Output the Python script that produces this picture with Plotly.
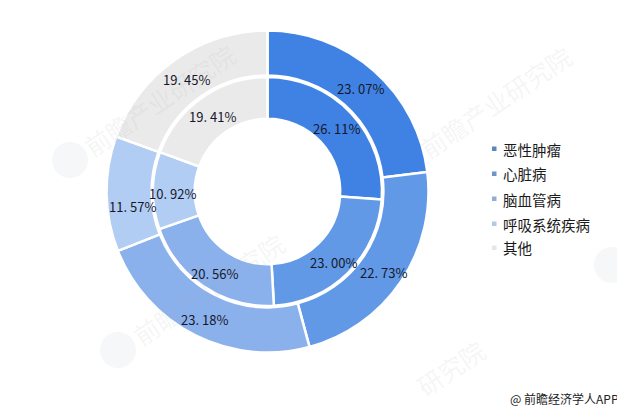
import plotly.graph_objects as go

W, H = 625, 411
categories = ["恶性肿瘤", "心脏病", "脑血管病", "呼吸系统疾病", "其他"]
outer_values = [23.07, 22.73, 23.18, 11.57, 19.45]
inner_values = [26.11, 23.00, 20.56, 10.92, 19.41]
outer_text = ["23. 07%", "22. 73%", "23. 18%", "11. 57%", "19. 45%"]
inner_text = ["26. 11%", "23. 00%", "20. 56%", "10. 92%", "19. 41%"]
colors = ["#3F82E3", "#6199E6", "#8AB1EC", "#B2CDF3", "#EAEAEA"]
legend_colors = ["#5B86BE", "#6E95C8", "#94AECF", "#B4C8DE", "#E6E6E6"]
watermark_text = "前瞻产业研究院"
watermark_part = "研究院"
footer_text = "@ 前瞻经济学人APP"
CJK = "Noto Sans CJK SC"

# page pixel positions (the page body adds an 8px offset to the figure)
outer_label_xy = [(360, 89), (383, 272), (204, 319), (132, 207), (186, 79)]
inner_label_xy = [(336, 129), (334, 262), (214, 273), (172, 193), (212, 116)]
legend_rows_y = [149, 174, 199, 224, 248]
watermark_xy = [(159, 100), (495, 102), (208, 289)]
logo_xy = [(70, 160), (118, 350), (612, 265)]
OFFSET = 8


def fx(x):
    return (x - OFFSET) / W


def fy(y):
    return 1 - (y - OFFSET) / H


def domain(cx, cy, r):
    return dict(x=[fx(cx - r), fx(cx + r)], y=[fy(cy + r), fy(cy - r)])


def note(x, y, text, size, color, xanchor="center", angle=0):
    fig.add_annotation(x=fx(x), y=fy(y), xref="paper", yref="paper", text=text, showarrow=False,
                       xanchor=xanchor, yanchor="middle", textangle=angle,
                       font=dict(family=CJK, size=size, color=color))


fig = go.Figure()
for vals, r, hole in [(outer_values, 161, 0.72), (inner_values, 114.5, 0.635)]:
    fig.add_trace(go.Pie(values=vals, labels=categories, textinfo="none",
                         domain=domain(267.5, 191.5, r), hole=hole, sort=False, direction="clockwise",
                         rotation=0, marker=dict(colors=colors, line=dict(color="white", width=2.5)),
                         showlegend=False))

for lx, ly in logo_xy:
    fig.add_shape(type="circle", xref="paper", yref="paper", layer="below",
                  x0=fx(lx - 18), x1=fx(lx + 18), y0=fy(ly + 18), y1=fy(ly - 18),
                  fillcolor="#F6F7F8", line=dict(width=0))
for wx, wy in watermark_xy:
    note(wx, wy, watermark_text, 25, "rgba(170,175,180,0.13)", angle=-34)
note(450, 368, watermark_part, 25, "rgba(170,175,180,0.13)", angle=-34)
for txt, (lx, ly) in zip(outer_text + inner_text, outer_label_xy + inner_label_xy):
    note(lx, ly, txt, 13, "#16182A")
for name, color, ly in zip(categories, legend_colors, legend_rows_y):
    fig.add_shape(type="rect", xref="paper", yref="paper", x0=fx(492), x1=fx(496.5), y0=fy(ly + 2), y1=fy(ly - 2.5),
                  fillcolor=color, line=dict(width=0))
    note(501, ly, name, 14.5, "#1A1A1A", xanchor="left")
note(564.5, 398, footer_text, 12, "#222222")
fig.update_layout(width=W, height=H, margin=dict(l=0, r=0, t=0, b=0), paper_bgcolor="white", plot_bgcolor="white",
                  showlegend=False)
fig.write_html("out.html")
